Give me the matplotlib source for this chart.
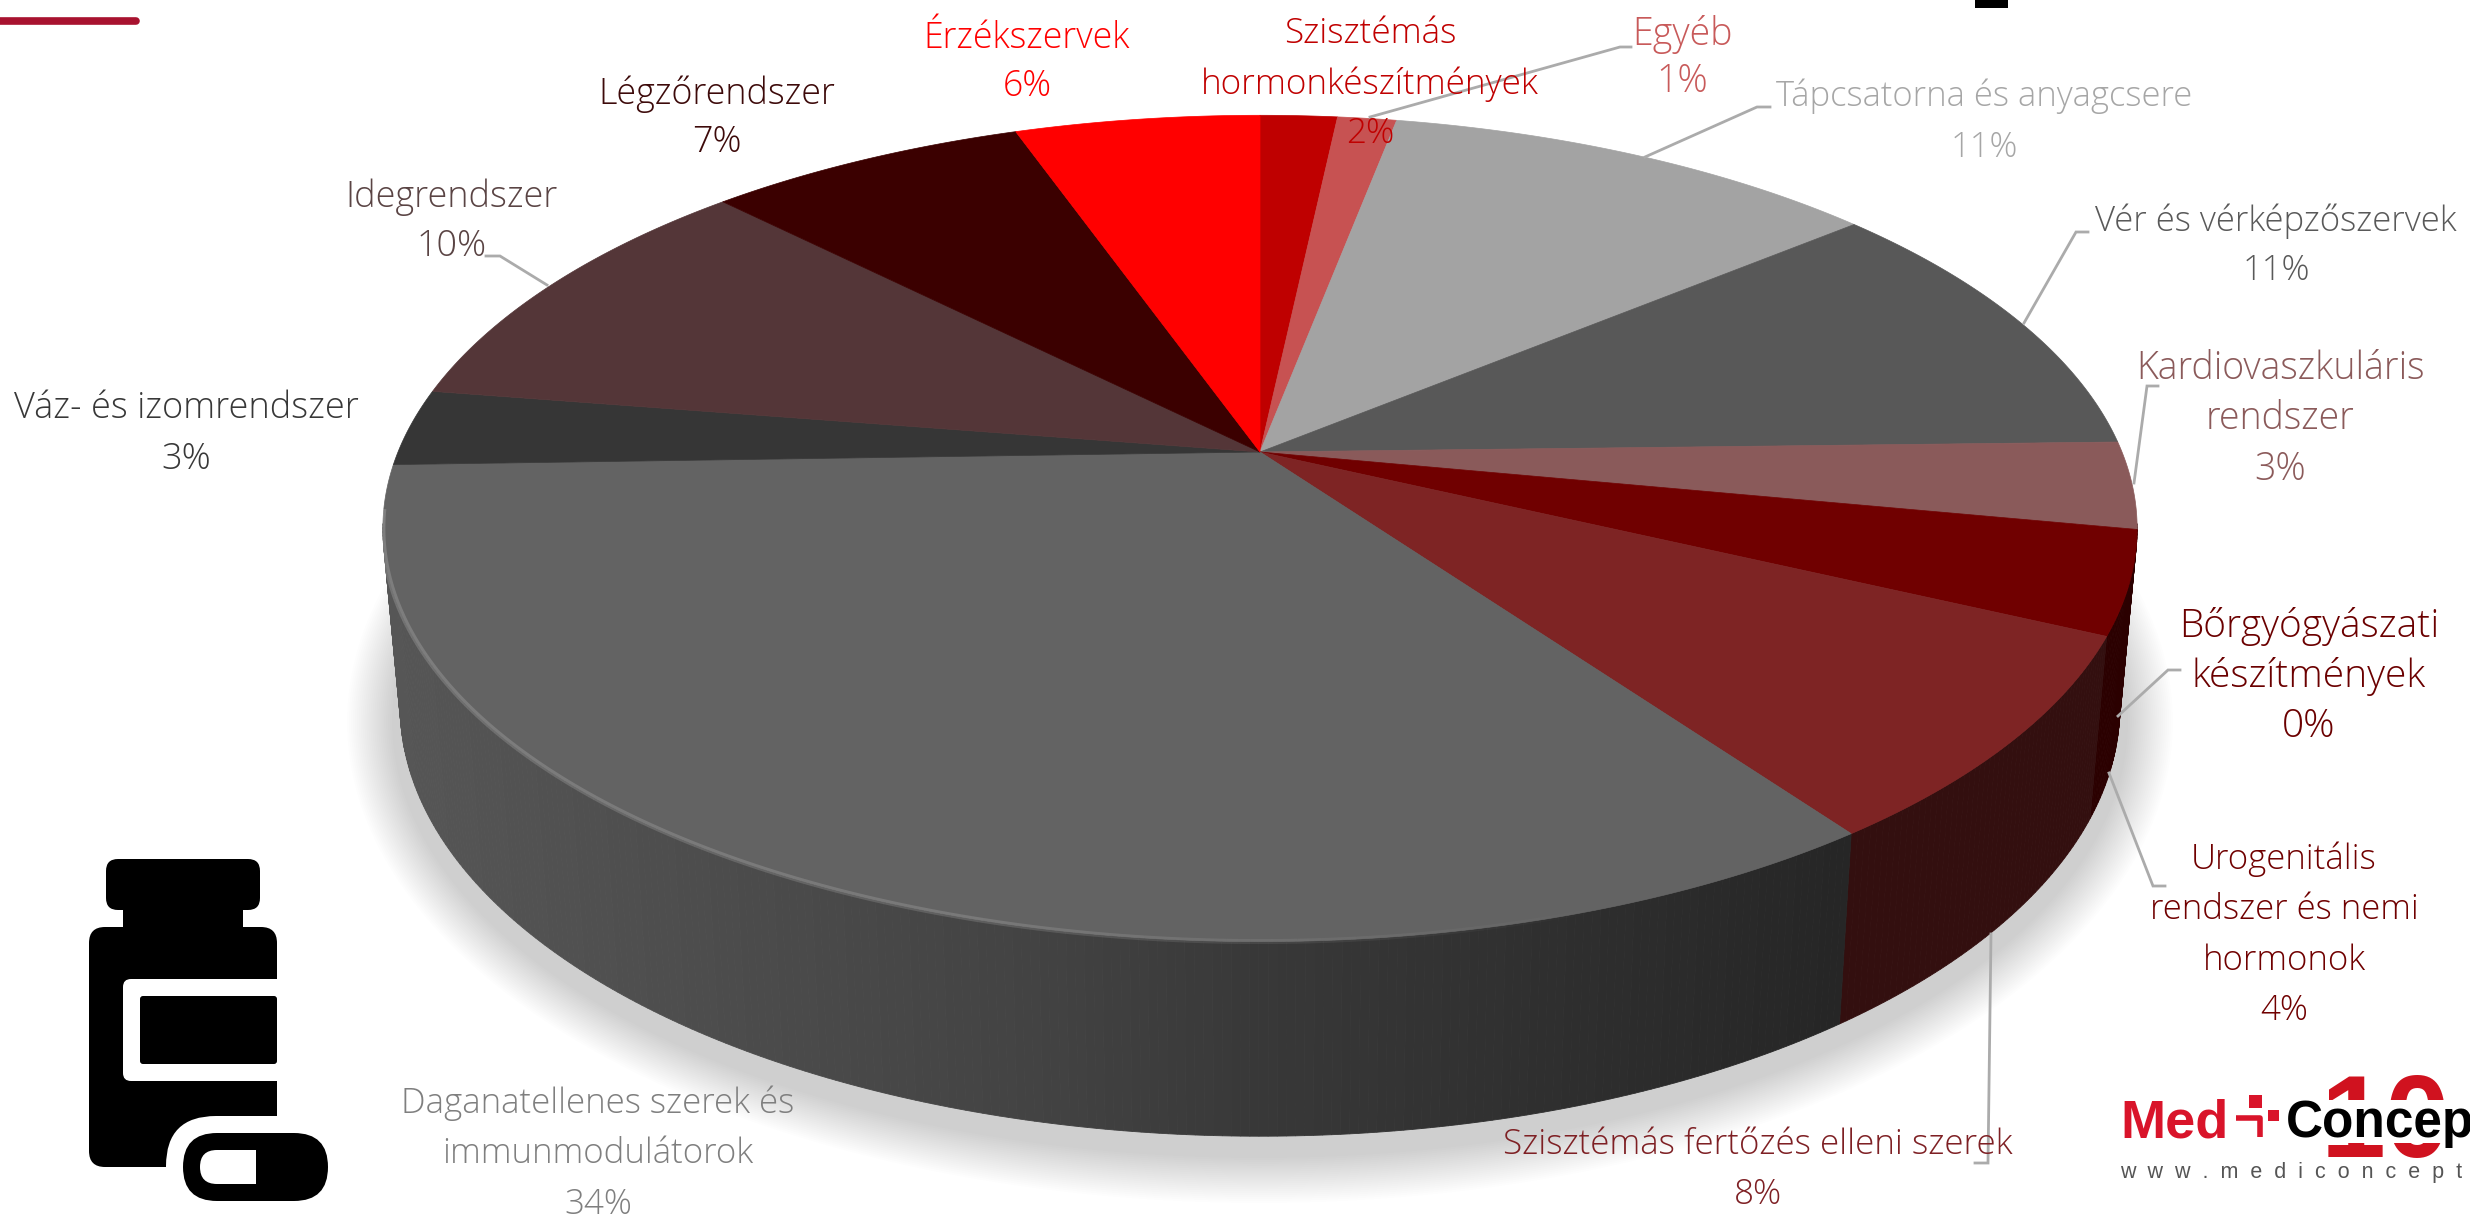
import numpy as np
import matplotlib
matplotlib.use("Agg")
import matplotlib.pyplot as plt
from matplotlib.patches import Polygon, FancyBboxPatch, Rectangle
from matplotlib.collections import LineCollection

# ---- data (clockwise from 12 o'clock) ----
labels = ["Szisztémás\nhormonkészítmények", "Egyéb", "Tápcsatorna és anyagcsere",
          "Vér és vérképzőszervek", "Kardiovaszkuláris\nrendszer", "Bőrgyógyászati\nkészítmények",
          "Urogenitális\nrendszer és nemi\nhormonok", "Szisztémás fertőzés elleni szerek",
          "Daganatellenes szerek és\nimmunmodulátorok", "Váz- és izomrendszer",
          "Idegrendszer", "Légzőrendszer", "Érzékszervek"]
percent_labels = [2, 1, 11, 11, 3, 0, 4, 8, 34, 3, 10, 7, 6]
values = [1.7, 1.3, 11, 10.6, 3.4, 0, 4, 8.1, 34.4, 3, 10.05, 7.05, 5.4]
top_colors = ["#BF0000", "#C75252", "#A3A3A3", "#585858", "#8A5A5A", "#6E0000", "#700000",
              "#7E2424", "#636363", "#363636", "#543638", "#3B0000", "#FF0000"]
side_colors = ["#700000", "#7a3030", "#606060", "#333333", "#503030", "#3a0000", "#2B0000",
               "#330F0F", None, "#222222", "#302020", "#220000", "#900000"]
text_colors = ["#C00000", "#C85A5A", "#A6A6A6", "#595959", "#8B5A5A", "#6B0000", "#700000",
               "#7E2024", "#7F7F7F", "#383838", "#5A4444", "#3D0A0A", "#FF0000"]
label_x = [1370, 1682, 1984, 2276, 2280, 2309, 2284, 1758, 598, 186, 452, 717, 1027]
label_y = [84, 58, 122, 246, 419, 677, 935, 1170, 1154, 434, 222, 118, 62]
label_size = [25.3, 27, 24.9, 25, 27, 28, 25, 25.2, 25.1, 26, 25.9, 25.8, 25.7]
line_gap = [50, 48, 51, 49, 50.5, 50, 50.5, 50, 50.5, 51, 50, 48, 48]
leaders = {1: [(1370, 117), (1620, 47), (1631, 47)],
           2: [(1645, 157), (1757, 107), (1770, 107)],
           3: [(2024, 323), (2076, 232), (2088, 232)],
           4: [(2134, 483), (2147, 386), (2158, 386)],
           5: [(2118, 716), (2168, 670), (2180, 670)],
           6: [(2109, 773), (2153, 886), (2165, 886)],
           7: [(1991, 934), (1988, 1163), (1975, 1163)],
           10: [(547, 285), (500, 256), (486, 256)]}

# ---- pie geometry ----
CX, K = 1260.0, 0.185
TOP = dict(A=862.0, B=399.0, cy=452.0)
BOT = dict(A=845.0, B=415.0, cy=627.0)

def proj(theta, g):
    x, y = np.sin(theta), np.cos(theta)
    w = 1 + K * y
    return np.column_stack([CX + g["A"] * x / w, g["cy"] - g["B"] * y / w])

fig = plt.figure(figsize=(24.7, 12.19), dpi=100, facecolor="white")
ax = fig.add_axes([0, 0, 1, 1])
ax.set_xlim(0, 2470)
ax.set_ylim(1219, 0)
ax.axis("off")

plt.rcParams["font.family"] = ["Open Sans", "DejaVu Sans"]

# soft shadow
t = np.linspace(0, 2 * np.pi, 240)
for g in np.linspace(45, 0, 24):
    ax.add_patch(Polygon(np.column_stack([CX + (868 + g) * np.cos(t), 722 + (436 + g) * np.sin(t)]),
                         closed=True, fc="black", ec="none", alpha=0.0065, zorder=1))

fr = np.cumsum([0] + values) / sum(values) * 2 * np.pi

# side wall
def dag_shade(x):
    return np.interp(x, [400, 1040, 1267, 1835], [0x56, 0x43, 0x38, 0x26]) / 255

for i, v in enumerate(values):
    if v == 0:
        continue
    a0, a1 = max(fr[i], np.radians(100)), min(fr[i + 1], np.radians(260))
    if a1 <= a0:
        continue
    th = np.linspace(a0, a1, max(3, int(np.degrees(a1 - a0) * 2)))
    pt, pb = proj(th, TOP), proj(th, BOT)
    for j in range(len(th) - 1):
        poly = [pt[j], pt[j + 1], pb[j + 1], pb[j]]
        c = side_colors[i]
        if c is None:
            s = dag_shade(pb[j, 0])
            c = (s, s, s)
        ax.add_patch(Polygon(poly, closed=True, fc=c, ec=c, lw=0.6, zorder=2))

# top face
for i, v in enumerate(values):
    if v == 0:
        continue
    th = np.linspace(fr[i], fr[i + 1], max(3, int(v * 8)))
    pts = np.vstack([[CX, TOP["cy"]], proj(th, TOP)])
    ax.add_patch(Polygon(pts, closed=True, fc=top_colors[i], ec=top_colors[i], lw=0.5, zorder=3))

# rim highlight on the large slice
th = np.radians(np.linspace(160, 262, 160))
pr = proj(th, TOP)
segs = np.stack([pr[:-1], pr[1:]], axis=1)
al = np.interp(np.degrees(th[:-1]), [160, 195, 262], [0.0, 0.14, 0.18])
ax.add_collection(LineCollection(segs, colors=[(1, 1, 1, a) for a in al], linewidths=3.6, zorder=4))

# leader lines
for i, pts in leaders.items():
    p = np.array(pts)
    ax.plot(p[:, 0], p[:, 1], color="#ABABAB", lw=2.0, zorder=5, solid_joinstyle="miter")

# labels
for i in range(len(labels)):
    lines = labels[i].split("\n") + [f"{percent_labels[i]}%"]
    n = len(lines)
    for j, s in enumerate(lines):
        ax.text(label_x[i], label_y[i] + (j - (n - 1) / 2) * line_gap[i], s, ha="center", va="center",
                color=text_colors[i], fontsize=label_size[i], fontweight="light", zorder=6)

# top-left accent & top fragment
ax.plot([0, 136], [21, 21], color="#A8122F", lw=5.5, solid_capstyle="round", zorder=6)
ax.add_patch(Rectangle((1975, 0), 33, 8, fc="black", ec="none", zorder=6))

# medicine icon
def rbox(x0, y0, x1, y1, r, fc, z=7):
    ax.add_patch(FancyBboxPatch((x0 + r, y0 + r), x1 - x0 - 2 * r, y1 - y0 - 2 * r,
                                boxstyle=f"round,pad={r},rounding_size={r}", fc=fc, ec="none", zorder=z))
rbox(106, 859, 260, 910, 12, "black")
ax.add_patch(Rectangle((123, 905), 120, 26, fc="black", ec="none", zorder=7))
rbox(89, 927, 277, 1167, 16, "black")
ax.add_patch(Rectangle((260, 1100), 20, 70, fc="black", ec="none", zorder=7))
rbox(123, 979, 290, 1081, 8, "white", 8)
rbox(140, 996, 277, 1064, 3, "black", 9)
ax.add_patch(Rectangle((277, 940), 20, 230, fc="white", ec="none", zorder=8))
rbox(166, 1116, 340, 1218, 50, "white", 8)
rbox(183, 1133, 328, 1201, 34, "black", 9)
rbox(200, 1150, 290, 1184, 17, "white", 10)
ax.add_patch(Rectangle((256, 1148), 40, 38, fc="black", ec="none", zorder=11))

# logo
LOGO = "Liberation Sans"
ax.text(2385, 1157, "10", ha="center", va="baseline", family=LOGO, weight="bold", fontsize=84,
        color="#D0121F", zorder=6)
ax.add_patch(Rectangle((2115, 1100), 355, 43, fc="white", ec="none", zorder=7))
ax.text(2120, 1137, "Med", family=LOGO, weight="bold", fontsize=39, color="#D9142A", zorder=8)
ax.plot([2236, 2260, 2260], [1118, 1118, 1137], color="#D9142A", lw=4, solid_capstyle="butt", zorder=8)
ax.add_patch(Rectangle((2249, 1095), 13, 13, fc="#D9142A", ec="none", zorder=8))
ax.add_patch(Rectangle((2268, 1110), 11, 11, fc="#D9142A", ec="none", zorder=8))
ax.text(2286, 1137, "Concept", family=LOGO, weight="bold", fontsize=37, color="black", zorder=8, clip_on=True)
ax.text(2120, 1178, "w  w  w  .  m  e  d  i  c  o  n  c  e  p  t  .  h  u", family=LOGO, fontsize=15.5,
        color="#555555", zorder=8, clip_on=True)

fig.savefig("out.png", dpi=100, facecolor="white")
